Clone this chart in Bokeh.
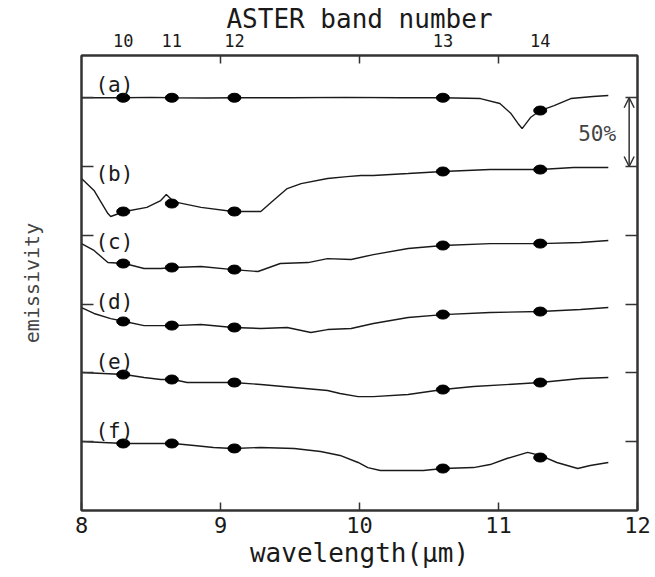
from bokeh.plotting import figure
from bokeh.models import LinearAxis, FixedTicker, Range1d, Arrow, OpenHead
from bokeh.core.properties import value
from bokeh.embed import file_html
from bokeh.resources import INLINE

FONT = "DejaVu Sans Mono"
INK = "#1a1a1a"

# ---------------- data ----------------
band_wavelength = [8.3, 8.65, 9.1, 10.6, 11.3]
band_number = ["10", "11", "12", "13", "14"]
wavelength_ticks = [8, 9, 10, 11, 12]
sample_names = ["(a)", "(b)", "(c)", "(d)", "(e)", "(f)"]
stack_offset = [2.0, 1.5, 1.0, 0.5, 0.0, -0.5]
scale_bar = 0.5
scale_text = "50%"

wl_a = [8.0, 8.3, 8.5, 8.65, 8.9, 9.1, 9.5, 9.9, 10.3, 10.6, 10.87, 11.01, 11.09,
        11.14, 11.17, 11.23, 11.3, 11.4, 11.52, 11.68, 11.79]
em_a = [1.000, 1.000, 1.003, 1.000, 0.998, 1.000, 1.000, 1.003, 1.000, 1.000, 0.994,
        0.958, 0.885, 0.813, 0.776, 0.856, 0.907, 0.943, 0.994, 1.009, 1.016]

wl_b = [8.0, 8.09, 8.19, 8.21, 8.31, 8.47, 8.57, 8.61, 8.64, 8.66, 8.86, 9.09, 9.29,
        9.38, 9.48, 9.58, 9.77, 9.91, 10.01, 10.10, 10.35, 10.60, 10.94, 11.30, 11.54, 11.79]
em_b = [0.913, 0.826, 0.658, 0.637, 0.673, 0.703, 0.753, 0.797, 0.767, 0.745, 0.703,
        0.673, 0.673, 0.753, 0.840, 0.876, 0.913, 0.927, 0.935, 0.935, 0.949, 0.964,
        0.978, 0.978, 0.993, 0.993]

wl_c = [8.0, 8.09, 8.19, 8.31, 8.45, 8.57, 8.66, 8.86, 9.09, 9.27, 9.43, 9.63, 9.77,
        9.94, 10.10, 10.35, 10.60, 10.94, 11.30, 11.59, 11.79]
em_c = [0.940, 0.890, 0.802, 0.795, 0.759, 0.759, 0.766, 0.773, 0.751, 0.737, 0.795,
        0.802, 0.831, 0.824, 0.860, 0.904, 0.926, 0.940, 0.940, 0.948, 0.962]

wl_d = [8.0, 8.09, 8.21, 8.31, 8.45, 8.66, 8.86, 9.09, 9.29, 9.48, 9.65, 9.77, 9.94,
        10.10, 10.35, 10.60, 10.94, 11.30, 11.59, 11.79]
em_d = [0.975, 0.932, 0.895, 0.874, 0.844, 0.844, 0.852, 0.830, 0.823, 0.830, 0.794,
        0.815, 0.823, 0.859, 0.903, 0.924, 0.939, 0.946, 0.961, 0.975]

wl_e = [8.0, 8.31, 8.45, 8.57, 8.66, 8.76, 9.09, 9.29, 9.53, 9.77, 9.86, 9.99, 10.10,
        10.35, 10.60, 10.82, 11.30, 11.59, 11.79]
em_e = [1.003, 0.988, 0.967, 0.952, 0.952, 0.930, 0.930, 0.916, 0.894, 0.872, 0.850,
        0.828, 0.828, 0.843, 0.879, 0.901, 0.930, 0.959, 0.967]

wl_f = [8.0, 8.31, 8.66, 8.81, 8.95, 9.09, 9.29, 9.53, 9.72, 9.86, 9.99, 10.06, 10.15,
        10.46, 10.60, 10.82, 10.94, 11.06, 11.21, 11.30, 11.42, 11.57, 11.66, 11.79]
em_f = [1.001, 0.987, 0.987, 0.972, 0.958, 0.951, 0.958, 0.951, 0.929, 0.900, 0.849,
        0.812, 0.791, 0.791, 0.805, 0.812, 0.834, 0.878, 0.922, 0.900, 0.849, 0.805,
        0.827, 0.849]

band_em_a = [1.000, 1.000, 1.000, 1.000, 0.907]
band_em_b = [0.673, 0.731, 0.673, 0.964, 0.978]
band_em_c = [0.795, 0.766, 0.751, 0.926, 0.940]
band_em_d = [0.874, 0.844, 0.830, 0.924, 0.946]
band_em_e = [0.988, 0.952, 0.930, 0.879, 0.930]
band_em_f = [0.987, 0.987, 0.951, 0.805, 0.885]

wavelengths = [wl_a, wl_b, wl_c, wl_d, wl_e, wl_f]
emissivities = [em_a, em_b, em_c, em_d, em_e, em_f]
band_emissivities = [band_em_a, band_em_b, band_em_c, band_em_d, band_em_e, band_em_f]
label_rise = [0.096, -0.051, -0.045, 0.012, 0.076, 0.081]
y_ticks = [0.5, 1.0, 1.5, 2.0, 2.5, 3.0]

# ---------------- figure ----------------
p = figure(width=655, height=577, output_backend="svg", toolbar_location=None,
           x_range=Range1d(8, 12), y_range=Range1d(0, 3.307),
           x_axis_location=None, y_axis_location=None,
           min_border_left=81, min_border_right=18, min_border_top=55, min_border_bottom=67)
p.xgrid.grid_line_color = None
p.ygrid.grid_line_color = None
AX = "#333333"
p.outline_line_color = AX
p.outline_line_width = 2
p.background_fill_color = "white"
p.border_fill_color = "white"


def style_axis(ax):
    ax.axis_line_color = AX
    ax.axis_line_width = 2
    ax.major_tick_line_color = AX
    ax.major_tick_line_width = 1.5
    ax.minor_tick_line_color = AX
    ax.minor_tick_line_width = 1.5
    ax.major_tick_out = 0
    ax.minor_tick_out = 0
    ax.minor_tick_in = 0
    ax.major_label_text_font = FONT
    ax.major_label_text_color = INK
    ax.axis_label_text_font = FONT
    ax.axis_label_text_font_style = "normal"
    ax.axis_label_text_color = INK

# bottom axis
xb = LinearAxis(ticker=FixedTicker(ticks=wavelength_ticks), axis_label="wavelength(μm)")
style_axis(xb)
xb.major_tick_in = 8
xb.major_label_text_font_size = "22px"
xb.major_label_standoff = 6
xb.axis_label_text_font_size = "26px"
xb.axis_label_standoff = 2
p.add_layout(xb, "below")

# top axis: band numbers
xt = LinearAxis(ticker=FixedTicker(ticks=band_wavelength, minor_ticks=[9, 10, 11]),
                axis_label="ASTER band number",
                major_label_overrides={w: s for w, s in zip(band_wavelength, band_number)})
style_axis(xt)
xt.major_tick_in = 0
xt.minor_tick_in = 8
xt.major_label_text_font_size = "17px"
xt.major_label_standoff = 9
xt.axis_label_text_font_size = "26px"
xt.axis_label_standoff = -3
p.add_layout(xt, "above")

# left / right frame axes: inward ticks only (drawn as minor ticks, no labels)
yl = LinearAxis(ticker=FixedTicker(ticks=[], minor_ticks=y_ticks), axis_label="emissivity")
style_axis(yl)
yl.minor_tick_in = 12
yl.major_label_standoff = 0
yl.axis_label_text_font_size = "20px"
yl.axis_label_text_color = "#444444"
yl.axis_label_standoff = 38
p.add_layout(yl, "left")

yr = LinearAxis(ticker=FixedTicker(ticks=[], minor_ticks=y_ticks))
style_axis(yr)
yr.minor_tick_in = 12
yr.major_label_standoff = 0
p.add_layout(yr, "right")

# spectra
for wl, em, bem, off in zip(wavelengths, emissivities, band_emissivities, stack_offset):
    p.line(wl, [e + off for e in em], line_color=INK, line_width=1.4)
    p.ellipse(x=band_wavelength, y=[e + off for e in bem], width=13, height=9,
              width_units="screen", height_units="screen",
              fill_color="black", line_color="black")

# sample labels
p.text(x=[8.1] * len(sample_names),
       y=[1.0 + off + r for off, r in zip(stack_offset, label_rise)],
       text=sample_names, text_font=value(FONT), text_font_size="21px",
       text_color=INK, text_align="left", text_baseline="middle")

# 50% scale bar
top_level = 1.0 + stack_offset[0]
p.add_layout(Arrow(x_start=11.94, y_start=top_level - scale_bar, x_end=11.94, y_end=top_level,
                   line_color=AX, line_width=1.5,
                   start=OpenHead(size=10, line_color=AX, line_width=1.5),
                   end=OpenHead(size=10, line_color=AX, line_width=1.5)))
p.text(x=[11.71], y=[top_level - scale_bar / 2 - 0.01], text=[scale_text],
       text_font=value(FONT), text_font_size="21px", text_color="#444444",
       text_align="center", text_baseline="middle")

open("out.html", "w").write(file_html(p, INLINE))
